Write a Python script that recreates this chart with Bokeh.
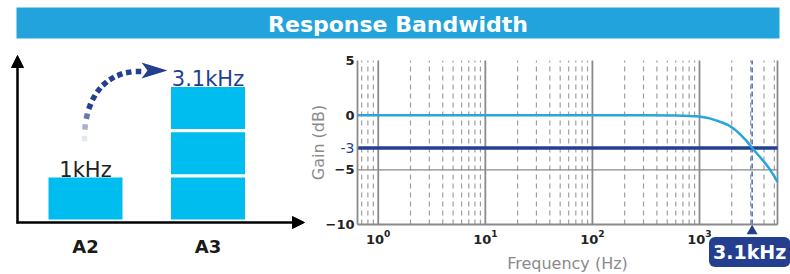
import numpy as np
from bokeh.plotting import figure
from bokeh.models import (Arrow, NormalHead, Label, FixedTicker, LinearAxis, LogAxis,
                          Range1d, LinearScale)
from bokeh.core.properties import value
from bokeh.embed import file_html
from bokeh.resources import INLINE

# ---------------- data ----------------
TITLE = "Response Bandwidth"
categories = ["A2", "A3"]
bandwidth_labels = ["1kHz", "3.1kHz"]
blocks = [1, 3]                      # stacked 1 kHz blocks per category

freq_hz = [0.64, 1, 10, 100, 300, 600, 800, 1000, 1200, 1400, 1600, 1850,
           2100, 2400, 2750, 3100, 3500, 4000, 4500, 5000, 5350]
gain_db = [0.0, 0.0, 0.0, 0.0, -0.01, -0.04, -0.08, -0.13, -0.25, -0.45, -0.65,
           -0.9, -1.25, -1.75, -2.35, -3.0, -3.6, -4.25, -4.9, -5.6, -6.1]
cutoff_hz = 3100
cutoff_label = "3.1kHz"
cutoff_db = -3
y_ticks = [-10, -5, 0, 5]
x_label = "Frequency (Hz)"
y_label = "Gain (dB)"

# ---------------- styles / layout ----------------
FAM = "DejaVu Sans"
FONT = value(FAM)
TITLE_BG = "#23A3DC"
BAR = "#00BDF0"
DARK = "#243F8F"
CURVE = "#2AA4DE"
GRID = "#8A8A8A"
MINOR = "#9E9E9E"

W, H = 790, 274
CL, CR, CT, CB = 357, 777, 60, 224          # chart frame in px
F0, F1 = 0.64, 5350                          # chart x range (Hz)
G0, G1 = -10, 5                              # chart y range (dB)
DEC = (CR - CL) / np.log10(F1 / F0)          # px per decade
YPX = (CB - CT) / (G1 - G0)                  # px per dB
xs = 10 ** (np.log10(F0) - CL / DEC)
xe = 10 ** (np.log10(F1) + (W - CR) / DEC)
ys = G0 - (H - CB) / YPX
ye = G1 + CT / YPX

# left diagram scale
BX0, BY0, BXS, BYS = 85, 219, 122.5, 45.3   # px of category 0 / baseline, px per unit

p = figure(width=W, height=H, x_axis_type="log", x_range=Range1d(xs, xe),
           y_range=Range1d(ys, ye), x_axis_location=None, y_axis_location=None,
           toolbar_location=None, output_backend="svg", min_border=0,
           outline_line_color=None, background_fill_color="white", border_fill_color="white")
for g in p.grid:
    g.visible = False

p.extra_x_ranges = {"px": Range1d(0, W), "dx": Range1d(-BX0 / BXS, (W - BX0) / BXS)}
p.extra_x_scales = {"px": LinearScale(), "dx": LinearScale()}
p.extra_y_ranges = {"px": Range1d(H, 0), "dy": Range1d((BY0 - H) / BYS, BY0 / BYS)}
p.extra_y_scales = {"px": LinearScale(), "dy": LinearScale()}
PX = dict(x_range_name="px", y_range_name="px")
DX = dict(x_range_name="dx", y_range_name="dy")

# ---------------- title bar ----------------
p.quad(left=[16], right=[779], top=[7], bottom=[38], fill_color=TITLE_BG, line_color=None, **PX)
p.text(x=[397.5], y=[23.5], text=[TITLE], text_align="center", text_baseline="middle",
       text_color="white", text_font=FONT, text_font_size="22px", text_font_style="bold", **PX)

# ---------------- left diagram ----------------
BLOCK_H = 42 / BYS
lefts, rights, bottoms, tops = [], [], [], []
for i, n in enumerate(blocks):
    for k in range(n):
        lefts.append(i - 0.302)
        rights.append(i + 0.302)
        bottoms.append(k)
        tops.append(k + BLOCK_H)
p.quad(left=lefts, right=rights, bottom=bottoms, top=tops, fill_color=BAR, line_color=None, **DX)

p.add_layout(Arrow(end=NormalHead(size=12, fill_color="black", line_color="black"),
                   x_start=17, y_start=223, x_end=17, y_end=55,
                   line_width=2.5, line_color="black", **PX))
p.add_layout(Arrow(end=NormalHead(size=12, fill_color="black", line_color="black"),
                   x_start=16, y_start=222, x_end=304, y_end=222,
                   line_width=2.5, line_color="black", **PX))

p.text(x=list(range(len(categories))), y=[-27 / BYS] * len(categories), text=categories,
       text_align="center", text_baseline="alphabetic", text_color="#1a1a1a",
       text_font=FONT, text_font_size="18px", text_font_style="bold", **DX)

val_y = [b - 1 + BLOCK_H + 8 / BYS for b in blocks]
p.text(x=list(range(len(categories))), y=val_y, text=bandwidth_labels,
       text_align="center", text_baseline="alphabetic", text_color=["#222222", DARK],
       text_font=FONT, text_font_size="21px", text_font_style="normal", **DX)

# dotted curved arrow (decoration)
P0, P1, P2, P3 = (np.array([84, 138.0]), np.array([84, 98.0]),
                  np.array([104, 71.0]), np.array([138, 71.0]))
t = np.linspace(0, 1, 11)[:, None]
pts = (1 - t) ** 3 * P0 + 3 * (1 - t) ** 2 * t * P1 + 3 * (1 - t) * t ** 2 * P2 + t ** 3 * P3
der = 3 * (1 - t) ** 2 * (P1 - P0) + 6 * (1 - t) * t * (P2 - P1) + 3 * t ** 2 * (P3 - P2)
ang = np.arctan2(-der[:, 1], der[:, 0])
alphas = [0.12, 0.4, 0.7] + [1.0] * (len(pts) - 3)
p.scatter(x=pts[:, 0], y=pts[:, 1], marker="square", size=5.5, angle=ang,
          fill_color=DARK, line_color=None, fill_alpha=alphas, **PX)
p.patch(x=[141, 167, 141, 147], y=[62, 70, 78, 70], fill_color=DARK, line_color=None, **PX)

# ---------------- right chart ----------------
decades = range(-1, 4)
major = [10.0 ** k for k in decades if F0 <= 10.0 ** k <= F1]
minor = [m * 10.0 ** k for k in decades for m in range(2, 10) if F0 <= m * 10.0 ** k <= F1]

p.segment(x0=minor, y0=[G0] * len(minor), x1=minor, y1=[G1] * len(minor),
          line_color=MINOR, line_width=1.2, line_dash="5 4")
p.segment(x0=major, y0=[G0] * len(major), x1=major, y1=[G1] * len(major),
          line_color=GRID, line_width=1.8)
p.segment(x0=[F0], y0=[-5], x1=[F1], y1=[-5], line_color=GRID, line_width=1.3)
p.segment(x0=[F1], y0=[G0], x1=[F1], y1=[G1], line_color=GRID, line_width=1.8)
p.segment(x0=[cutoff_hz], y0=[G0], x1=[cutoff_hz], y1=[G1], line_color="#4863B3",
          line_width=1.5, line_dash="5 3")
p.segment(x0=[F0], y0=[cutoff_db], x1=[F1], y1=[cutoff_db], line_color=DARK, line_width=3.5)
p.line(freq_hz, gain_db, line_color=CURVE, line_width=2.5)

def style_axis(ax, color="#222222"):
    ax.axis_line_color = GRID
    ax.axis_line_width = 1.8
    ax.major_tick_line_color = None
    ax.minor_tick_line_color = None
    ax.major_tick_out = 0
    ax.major_tick_in = 0
    ax.major_label_text_font = FAM
    ax.major_label_text_font_size = "13px"
    ax.major_label_text_font_style = "bold"
    ax.major_label_text_color = color
    ax.axis_label_text_font = FAM
    ax.axis_label_text_font_style = "normal"
    ax.axis_label_text_color = "#8a8a8a"
    ax.axis_label_text_font_size = "16px"

xaxis = LogAxis(fixed_location=G0, bounds=(F0, F1), axis_label=x_label,
                major_label_standoff=1, axis_label_standoff=7)
style_axis(xaxis)
p.add_layout(xaxis, "below")

yaxis = LinearAxis(fixed_location=F0, bounds=(G0, G1), ticker=FixedTicker(ticks=y_ticks),
                   axis_label=y_label, major_label_standoff=3, axis_label_standoff=-5)
style_axis(yaxis)
p.add_layout(yaxis, "left")

# the -3 dB level label, coloured like its line, next to the axis
p.text(x=[F0 * 10 ** (-3 / DEC)], y=[cutoff_db], text=[str(cutoff_db)], text_align="right",
       text_baseline="middle", text_color=DARK, text_font=FONT, text_font_size="14px")

# ---------------- callout ----------------
p.scatter(x=[cutoff_hz], y=[G0 - 6.5 / YPX], marker="triangle", size=11,
          fill_color=DARK, line_color=None)
p.add_layout(Label(x=cutoff_hz, y=G0 - 27.5 / YPX, x_offset=-2.5, text=cutoff_label,
                   text_align="center", text_baseline="middle", text_color="white",
                   text_font=FAM, text_font_size="19px", text_font_style="bold",
                   background_fill_color=DARK, border_line_color=None,
                   padding=4, border_radius=6))

open("out.html", "w").write(file_html(p, INLINE))
